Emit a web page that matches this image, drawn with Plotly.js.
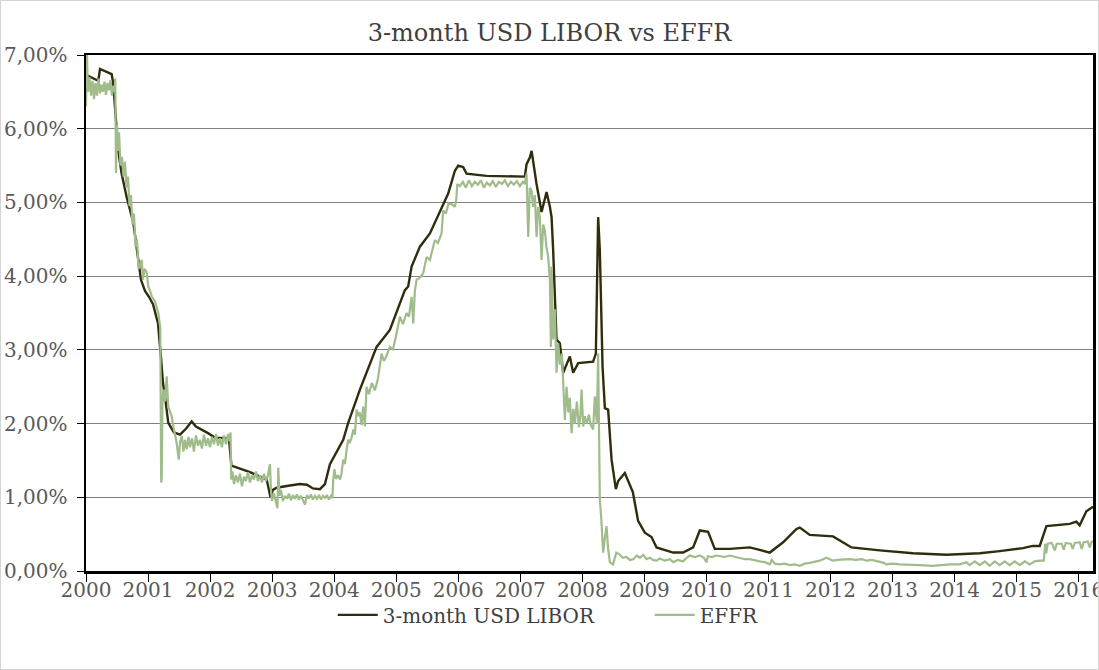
<!DOCTYPE html>
<html>
<head>
<meta charset="utf-8">
<script src="https://cdn.plot.ly/plotly-3.0.1.min.js"></script>
<style>
  html, body { margin: 0; padding: 0; background: #ffffff; }
  #chart { width: 1097px; height: 668px; border: 1px solid #d4d4d4; overflow: hidden; }
</style>
</head>
<body>
<div id="chart"></div>
<script>
// ---- Data (decimal years, values in %) ----
const chartTitle = "3-month USD LIBOR vs EFFR";
const liborName = "3-month USD LIBOR";
const effrName = "EFFR";

const liborYears = [
  2000.000, 2000.198, 2000.226, 2000.414, 2000.440, 2000.520, 2000.575, 2000.656, 2000.762, 2000.822,
  2000.886, 2000.951, 2001.015, 2001.080, 2001.160, 2001.208, 2001.241, 2001.273, 2001.326, 2001.418,
  2001.515, 2001.611, 2001.703, 2001.772, 2001.864, 2001.966, 2002.079, 2002.304, 2002.344, 2002.481,
  2002.643, 2002.804, 2002.912, 2002.949, 2002.973, 2003.013, 2003.073, 2003.287, 2003.448, 2003.561,
  2003.658, 2003.770, 2003.851, 2003.932, 2003.996, 2004.146, 2004.226, 2004.415, 2004.684, 2004.898,
  2005.140, 2005.193, 2005.248, 2005.382, 2005.543, 2005.757, 2005.838, 2005.946, 2005.999, 2006.079,
  2006.134, 2006.456, 2006.885, 2007.074, 2007.101, 2007.154, 2007.182, 2007.235, 2007.262, 2007.343,
  2007.423, 2007.477, 2007.504, 2007.530, 2007.584, 2007.638, 2007.691, 2007.799, 2007.852, 2007.933,
  2008.174, 2008.218, 2008.239, 2008.255, 2008.282, 2008.326, 2008.363, 2008.416, 2008.471, 2008.540,
  2008.577, 2008.685, 2008.814, 2008.899, 2009.007, 2009.115, 2009.196, 2009.463, 2009.624, 2009.786,
  2009.893, 2010.027, 2010.135, 2010.377, 2010.699, 2011.021, 2011.236, 2011.452, 2011.505, 2011.666,
  2012.041, 2012.338, 2012.794, 2013.330, 2013.869, 2014.405, 2014.727, 2015.103, 2015.259, 2015.372,
  2015.480, 2015.855, 2015.963, 2016.016, 2016.124, 2016.231
];
const liborValues = [
  6.73, 6.65, 6.81, 6.74, 6.60, 5.70, 5.39, 5.07, 4.73, 4.35,
  3.95, 3.80, 3.72, 3.62, 3.36, 2.90, 2.55, 2.37, 2.01, 1.88,
  1.85, 1.93, 2.03, 1.96, 1.92, 1.87, 1.81, 1.80, 1.43, 1.39,
  1.34, 1.28, 1.24, 1.10, 1.00, 1.10, 1.13, 1.16, 1.18, 1.17,
  1.12, 1.11, 1.18, 1.45, 1.55, 1.78, 2.01, 2.46, 3.04, 3.27,
  3.81, 3.86, 4.13, 4.40, 4.58, 4.98, 5.12, 5.43, 5.50, 5.48,
  5.39, 5.36, 5.35, 5.35, 5.52, 5.61, 5.70, 5.40, 5.25, 4.87,
  5.14, 4.94, 4.80, 4.35, 3.14, 3.09, 2.69, 2.91, 2.69, 2.82,
  2.84, 2.95, 4.10, 4.80, 4.35, 2.77, 2.21, 2.19, 1.51, 1.11,
  1.22, 1.33, 1.07, 0.68, 0.52, 0.46, 0.32, 0.25, 0.25, 0.32,
  0.55, 0.53, 0.30, 0.30, 0.32, 0.25, 0.39, 0.57, 0.59, 0.49,
  0.47, 0.32, 0.28, 0.24, 0.22, 0.24, 0.27, 0.31, 0.34, 0.34,
  0.61, 0.64, 0.67, 0.62, 0.81, 0.87
];

const effrYears = [
  2000.000, 2000.016, 2000.032, 2000.056, 2000.081, 2000.105, 2000.129, 2000.153, 2000.177, 2000.201,
  2000.226, 2000.250, 2000.274, 2000.298, 2000.322, 2000.346, 2000.371, 2000.395, 2000.419, 2000.443,
  2000.459, 2000.472, 2000.483, 2000.500, 2000.516, 2000.532, 2000.556, 2000.580, 2000.604, 2000.628,
  2000.653, 2000.677, 2000.701, 2000.725, 2000.749, 2000.773, 2000.798, 2000.822, 2000.846, 2000.870,
  2000.897, 2000.918, 2000.943, 2000.978, 2001.004, 2001.031, 2001.063, 2001.112, 2001.144, 2001.165,
  2001.197, 2001.212, 2001.220, 2001.233, 2001.246, 2001.273, 2001.300, 2001.326, 2001.354, 2001.381,
  2001.410, 2001.434, 2001.459, 2001.495, 2001.515, 2001.544, 2001.571, 2001.595, 2001.623, 2001.652,
  2001.676, 2001.708, 2001.740, 2001.772, 2001.805, 2001.837, 2001.869, 2001.901, 2001.934, 2001.966,
  2001.998, 2002.030, 2002.062, 2002.095, 2002.127, 2002.159, 2002.191, 2002.224, 2002.256, 2002.288,
  2002.312, 2002.330, 2002.340, 2002.361, 2002.385, 2002.417, 2002.449, 2002.481, 2002.514, 2002.546,
  2002.578, 2002.610, 2002.643, 2002.675, 2002.707, 2002.739, 2002.771, 2002.804, 2002.836, 2002.868,
  2002.900, 2002.933, 2002.965, 2002.981, 2002.997, 2003.029, 2003.062, 2003.086, 2003.099, 2003.118,
  2003.142, 2003.174, 2003.207, 2003.239, 2003.271, 2003.303, 2003.335, 2003.368, 2003.400, 2003.432,
  2003.464, 2003.497, 2003.529, 2003.561, 2003.593, 2003.625, 2003.658, 2003.690, 2003.722, 2003.754,
  2003.787, 2003.819, 2003.851, 2003.883, 2003.915, 2003.948, 2003.972, 2003.985, 2004.004, 2004.029,
  2004.061, 2004.093, 2004.117, 2004.146, 2004.173, 2004.197, 2004.226, 2004.254, 2004.278, 2004.310,
  2004.334, 2004.362, 2004.391, 2004.415, 2004.442, 2004.468, 2004.495, 2004.522, 2004.559, 2004.608,
  2004.656, 2004.704, 2004.764, 2004.801, 2004.834, 2004.898, 2004.947, 2005.006, 2005.060, 2005.108,
  2005.167, 2005.205, 2005.248, 2005.274, 2005.301, 2005.328, 2005.382, 2005.435, 2005.490, 2005.543,
  2005.591, 2005.623, 2005.672, 2005.731, 2005.757, 2005.801, 2005.841, 2005.892, 2005.946, 2005.970,
  2005.983, 2006.026, 2006.075, 2006.123, 2006.171, 2006.220, 2006.268, 2006.316, 2006.365, 2006.413,
  2006.461, 2006.510, 2006.558, 2006.606, 2006.655, 2006.703, 2006.751, 2006.800, 2006.848, 2006.896,
  2006.945, 2006.993, 2007.041, 2007.074, 2007.101, 2007.128, 2007.154, 2007.182, 2007.208, 2007.235,
  2007.262, 2007.288, 2007.315, 2007.343, 2007.369, 2007.396, 2007.420, 2007.450, 2007.477, 2007.493,
  2007.504, 2007.530, 2007.558, 2007.584, 2007.611, 2007.638, 2007.670, 2007.695, 2007.719, 2007.746,
  2007.775, 2007.799, 2007.826, 2007.855, 2007.880, 2007.912, 2007.944, 2007.968, 2007.988, 2008.014,
  2008.041, 2008.073, 2008.105, 2008.137, 2008.174, 2008.202, 2008.234, 2008.255, 2008.271, 2008.282,
  2008.306, 2008.336, 2008.363, 2008.390, 2008.416, 2008.443, 2008.495, 2008.548, 2008.592, 2008.654,
  2008.713, 2008.766, 2008.820, 2008.879, 2008.928, 2008.981, 2009.036, 2009.089, 2009.137, 2009.196,
  2009.250, 2009.330, 2009.411, 2009.463, 2009.539, 2009.620, 2009.684, 2009.733, 2009.813, 2009.894,
  2009.958, 2010.001, 2010.023, 2010.087, 2010.152, 2010.216, 2010.297, 2010.377, 2010.458, 2010.539,
  2010.619, 2010.699, 2010.780, 2010.860, 2010.941, 2011.021, 2011.053, 2011.102, 2011.182, 2011.263,
  2011.344, 2011.424, 2011.505, 2011.585, 2011.666, 2011.746, 2011.827, 2011.935, 2011.988, 2012.037,
  2012.117, 2012.230, 2012.310, 2012.407, 2012.504, 2012.580, 2012.665, 2012.761, 2012.858, 2012.901,
  2012.987, 2013.116, 2013.277, 2013.438, 2013.648, 2013.760, 2013.921, 2014.082, 2014.190, 2014.244,
  2014.324, 2014.405, 2014.486, 2014.566, 2014.647, 2014.727, 2014.808, 2014.888, 2014.969, 2015.050,
  2015.130, 2015.211, 2015.291, 2015.372, 2015.437, 2015.461, 2015.477, 2015.501, 2015.566, 2015.614,
  2015.646, 2015.727, 2015.759, 2015.791, 2015.872, 2015.904, 2015.936, 2016.017, 2016.049, 2016.081,
  2016.146, 2016.178, 2016.210, 2016.231
];
const effrValues = [
  6.30, 7.00, 6.50, 6.70, 6.45, 6.65, 6.40, 6.62, 6.45, 6.68,
  6.48, 6.60, 6.50, 6.64, 6.46, 6.62, 6.52, 6.66, 6.45, 6.58,
  6.50, 6.68, 5.40, 6.05, 5.70, 5.95, 5.50, 5.62, 5.35, 5.55,
  5.20, 5.35, 4.95, 5.10, 4.70, 4.85, 4.40, 4.50, 4.10, 4.15,
  4.22, 3.95, 4.10, 4.05, 3.86, 3.80, 3.72, 3.66, 3.55, 3.50,
  3.30, 1.20, 1.25, 2.30, 2.46, 2.30, 2.64, 2.23, 2.15, 2.10,
  1.95, 1.87, 1.75, 1.51, 1.75, 1.83, 1.62, 1.78, 1.65, 1.82,
  1.68, 1.80, 1.62, 1.84, 1.70, 1.78, 1.66, 1.85, 1.70, 1.80,
  1.68, 1.82, 1.72, 1.86, 1.70, 1.80, 1.68, 1.84, 1.72, 1.86,
  1.76, 1.88, 1.24, 1.35, 1.18, 1.30, 1.20, 1.32, 1.15, 1.28,
  1.22, 1.34, 1.20, 1.30, 1.24, 1.35, 1.22, 1.30, 1.20, 1.32,
  1.22, 1.30, 1.45, 1.10, 0.95, 1.05, 0.92, 0.85, 1.40, 1.02,
  1.10, 0.95, 1.02, 0.98, 1.05, 0.96, 1.03, 0.98, 1.04, 0.97,
  1.02, 0.96, 0.90, 1.03, 0.98, 1.04, 0.97, 1.02, 0.98, 1.03,
  0.97, 1.02, 0.99, 1.03, 0.97, 1.02, 0.99, 1.24, 1.38, 1.25,
  1.30, 1.24, 1.32, 1.51, 1.45, 1.62, 1.78, 1.75, 1.80, 1.92,
  1.85, 2.19, 2.10, 2.15, 1.98, 2.23, 1.96, 2.50, 2.40, 2.55,
  2.45, 2.60, 2.95, 2.85, 2.90, 3.04, 3.00, 3.23, 3.45, 3.35,
  3.50, 3.45, 3.72, 3.36, 3.80, 3.95, 3.98, 4.04, 4.26, 4.22,
  4.40, 4.49, 4.45, 4.58, 4.89, 4.85, 4.98, 4.98, 4.94, 5.05,
  5.25, 5.22, 5.28, 5.20, 5.30, 5.22, 5.28, 5.24, 5.30, 5.20,
  5.27, 5.23, 5.29, 5.21, 5.28, 5.25, 5.30, 5.22, 5.28, 5.24,
  5.29, 5.22, 5.28, 5.25, 5.39, 4.53, 5.20, 5.16, 4.94, 5.10,
  4.53, 4.94, 4.80, 4.22, 4.70, 4.62, 4.40, 4.26, 3.95, 3.04,
  4.13, 3.14, 3.55, 2.69, 3.09, 2.80, 2.95, 2.50, 2.05, 2.50,
  2.15, 2.35, 1.87, 2.20, 2.00, 2.30, 1.95, 2.10, 2.46, 1.96,
  2.10, 2.00, 2.12, 1.98, 1.92, 2.37, 2.00, 2.95, 1.96, 0.97,
  0.70, 0.25, 0.45, 0.61, 0.30, 0.12, 0.09, 0.25, 0.23, 0.18,
  0.19, 0.15, 0.16, 0.21, 0.18, 0.22, 0.16, 0.18, 0.15, 0.14,
  0.17, 0.14, 0.16, 0.12, 0.15, 0.13, 0.18, 0.21, 0.19, 0.21,
  0.18, 0.12, 0.20, 0.19, 0.21, 0.20, 0.19, 0.21, 0.19, 0.18,
  0.16, 0.16, 0.14, 0.13, 0.12, 0.09, 0.15, 0.10, 0.09, 0.10,
  0.08, 0.09, 0.07, 0.10, 0.11, 0.13, 0.14, 0.18, 0.16, 0.14,
  0.15, 0.16, 0.16, 0.15, 0.16, 0.14, 0.15, 0.13, 0.11, 0.09,
  0.10, 0.09, 0.09, 0.08, 0.07, 0.08, 0.09, 0.09, 0.12, 0.08,
  0.13, 0.08, 0.13, 0.07, 0.13, 0.08, 0.13, 0.08, 0.13, 0.08,
  0.13, 0.09, 0.13, 0.14, 0.14, 0.37, 0.24, 0.37, 0.38, 0.28,
  0.37, 0.37, 0.29, 0.38, 0.37, 0.30, 0.38, 0.39, 0.30, 0.39,
  0.40, 0.32, 0.40, 0.40
];

const yTickValues = [0, 1, 2, 3, 4, 5, 6, 7];
const yTickLabels = ["0,00%", "1,00%", "2,00%", "3,00%", "4,00%", "5,00%", "6,00%", "7,00%"];
const xTickValues = [2000, 2001, 2002, 2003, 2004, 2005, 2006, 2007, 2008, 2009, 2010, 2011, 2012, 2013, 2014, 2015, 2016];
const xTickLabels = xTickValues.map(String);

// ---- Chart ----
const serif = "DejaVu Serif";
const traces = [
  {
    x: liborYears, y: liborValues, name: liborName, type: "scatter", mode: "lines",
    line: { color: "#2f2d0c", width: 2.4 }
  },
  {
    x: effrYears, y: effrValues, name: effrName, type: "scatter", mode: "lines",
    line: { color: "#a0bc8b", width: 2.2 }
  }
];

const layout = {
  width: 1097, height: 668,
  paper_bgcolor: "#ffffff", plot_bgcolor: "#ffffff",
  font: { family: serif },
  margin: { l: 85, r: 5, t: 54, b: 98 },
  title: { text: chartTitle, x: 0.5, xanchor: "center", y: 0.952, yanchor: "middle",
           font: { family: serif, size: 24, color: "#404040" } },
  showlegend: true,
  legend: { orientation: "h", x: 0.245, xanchor: "left", y: -0.085, yanchor: "middle",
            font: { family: serif, size: 20, color: "#404040" }, itemwidth: 40,
            entrywidth: 262, entrywidthmode: "pixels",
            traceorder: "normal", bgcolor: "rgba(0,0,0,0)" },
  xaxis: {
    range: [2000, 2016.231], tickvals: xTickValues, ticktext: xTickLabels,
    showgrid: false, zeroline: false,
    showline: true, mirror: true, linecolor: "#000000", linewidth: 2.5,
    ticks: "outside", ticklen: 8, tickwidth: 1, tickcolor: "#000000",
    ticklabeloverflow: "allow", ticklabelstandoff: -9,
    tickfont: { family: serif, size: 20, color: "#595959" }
  },
  yaxis: {
    range: [0, 7], tickvals: yTickValues, ticktext: yTickLabels,
    showgrid: true, gridcolor: "#808080", gridwidth: 1, zeroline: false,
    showline: true, mirror: true, linecolor: "#000000", linewidth: 2.5,
    ticks: "outside", ticklen: 7, tickwidth: 1, tickcolor: "#000000",
    ticklabelstandoff: 5,
    tickfont: { family: serif, size: 20, color: "#595959" }
  }
};

Plotly.newPlot("chart", traces, layout, { displayModeBar: false, staticPlot: true });
</script>
</body>
</html>
